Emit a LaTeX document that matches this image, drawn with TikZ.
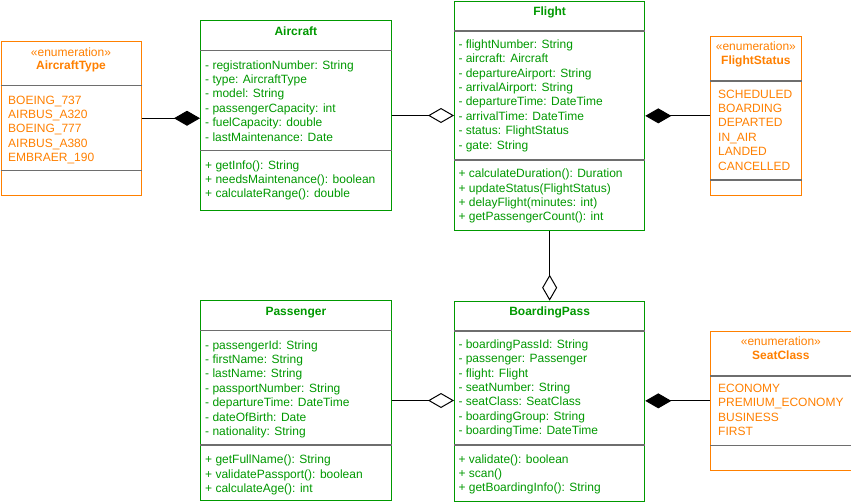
\documentclass[tikz,border=0pt]{standalone}
\usepackage{fontspec}
\setmainfont{Liberation Sans}
\usetikzlibrary{arrows.meta,positioning}

\definecolor{clsgreen}{RGB}{0,153,0}
\definecolor{enumorange}{RGB}{255,128,0}
\definecolor{sepgray}{RGB}{110,110,110}

\tikzset{
  box/.style={draw, fill=white, line width=1pt, anchor=north west, inner sep=0pt},
  classbox/.style={box, draw=clsgreen},
  enumbox/.style={box, draw=enumorange},
  sepline/.style={draw=sepgray, line width=1.3pt},
  txt/.style={inner sep=0pt, text height=10.6pt, text depth=2.6pt, font=\fontsize{12}{14.4}\selectfont},
  row/.style={txt, anchor=west},
  title/.style={txt, font=\fontsize{12}{14.4}\selectfont\bfseries},
  compose/.style={-{Diamond[length=26pt,width=15pt]}, line width=1pt},
  aggregate/.style={-{Diamond[length=26pt,width=15pt,fill=white]}, line width=1pt},
}

% one text line per entry, 14.4 apart
\newcommand{\umlrows}[5]{%
  \foreach \txt [count=\k] in {#5}
    \node[row, text=#4] (#1\k) at ({#2}, {#3+14.4*(\k-1)}) {\txt};
}

\begin{document}
\begin{tikzpicture}[x=1pt, y=-1pt] % y grows downwards
    \useasboundingbox (0,0) rectangle (851,501);

    % enumeration AircraftType
    \node[enumbox, minimum width=140pt, minimum height=154.5pt] (aircraftType) at (0.5,40.5) {};
    \draw[sepline] (aircraftType.west |- 0,85.7) -- (aircraftType.east |- 0,85.7);
    \draw[sepline] (aircraftType.west |- 0,170.7) -- (aircraftType.east |- 0,170.7);
    \node[txt, text=enumorange] (aircraftTypeStereo) at (aircraftType.north |- 0,52.7) {«enumeration»};
    \node[title, text=enumorange] (aircraftTypeName) at (aircraftType.north |- 0,65) {AircraftType};
    \umlrows{aircraftTypeL}{8}{100}{enumorange}{BOEING\_737, AIRBUS\_A320, BOEING\_777, AIRBUS\_A380, EMBRAER\_190}

    % class Aircraft
    \node[classbox, minimum width=190.7pt, minimum height=190pt] (aircraft) at (200,20) {};
    \draw[sepline] (aircraft.west |- 0,50.3) -- (aircraft.east |- 0,50.3);
    \draw[sepline] (aircraft.west |- 0,150.7) -- (aircraft.east |- 0,150.7);
    \node[title, text=clsgreen] (aircraftName) at (aircraft.north |- 0,31.7) {Aircraft};
    \umlrows{aircraftA}{205}{65}{clsgreen}{- registrationNumber: String, - type: AircraftType, - model: String, - passengerCapacity: int, - fuelCapacity: double, - lastMaintenance: Date}
    \umlrows{aircraftM}{205}{165}{clsgreen}{+ getInfo(): String, + needsMaintenance(): boolean, + calculateRange(): double}

    % class Flight
    \node[classbox, minimum width=190.3pt, minimum height=229pt] (flight) at (454,1) {};
    \draw[sepline] (flight.west |- 0,31) -- (flight.east |- 0,31);
    \draw[sepline] (flight.west |- 0,160) -- (flight.east |- 0,160);
    \node[title, text=clsgreen] (flightName) at (flight.north |- 0,11.7) {Flight};
    \umlrows{flightA}{458.3}{44.3}{clsgreen}{- flightNumber: String, - aircraft: Aircraft, - departureAirport: String, - arrivalAirport: String, - departureTime: DateTime, - arrivalTime: DateTime, - status: FlightStatus, - gate: String}
    \umlrows{flightM}{458.3}{173.7}{clsgreen}{+ calculateDuration(): Duration, + updateStatus(FlightStatus), + delayFlight(minutes: int), + getPassengerCount(): int}

    % enumeration FlightStatus
    \node[enumbox, minimum width=90.7pt, minimum height=159.3pt] (flightStatus) at (710,35.7) {};
    \draw[sepline] (flightStatus.west |- 0,81) -- (flightStatus.east |- 0,81);
    \draw[sepline] (flightStatus.west |- 0,180) -- (flightStatus.east |- 0,180);
    \node[txt, text=enumorange] (flightStatusStereo) at (flightStatus.north |- 0,46) {«enumeration»};
    \node[title, text=enumorange] (flightStatusName) at (flightStatus.north |- 0,60.7) {FlightStatus};
    \umlrows{flightStatusL}{718}{94}{enumorange}{SCHEDULED, BOARDING, DEPARTED, IN\_AIR, LANDED, CANCELLED}

    % class Passenger
    \node[classbox, minimum width=190.7pt, minimum height=200pt] (passenger) at (200,300) {};
    \draw[sepline] (passenger.west |- 0,330.3) -- (passenger.east |- 0,330.3);
    \draw[sepline] (passenger.west |- 0,445) -- (passenger.east |- 0,445);
    \node[title, text=clsgreen] (passengerName) at (passenger.north |- 0,311.7) {Passenger};
    \umlrows{passengerA}{205}{345}{clsgreen}{- passengerId: String, - firstName: String, - lastName: String, - passportNumber: String, - departureTime: DateTime, - dateOfBirth: Date, - nationality: String}
    \umlrows{passengerM}{205}{459.7}{clsgreen}{+ getFullName(): String, + validatePassport(): boolean, + calculateAge(): int}

    % class BoardingPass
    \node[classbox, minimum width=190.3pt, minimum height=200pt] (boardingPass) at (454,300.7) {};
    \draw[sepline] (boardingPass.west |- 0,331) -- (boardingPass.east |- 0,331);
    \draw[sepline] (boardingPass.west |- 0,445) -- (boardingPass.east |- 0,445);
    \node[title, text=clsgreen] (boardingPassName) at (boardingPass.north |- 0,311.7) {BoardingPass};
    \umlrows{boardingPassA}{458.3}{344.3}{clsgreen}{- boardingPassId: String, - passenger: Passenger, - flight: Flight, - seatNumber: String, - seatClass: SeatClass, - boardingGroup: String, - boardingTime: DateTime}
    \umlrows{boardingPassM}{458.3}{459}{clsgreen}{+ validate(): boolean, + scan(), + getBoardingInfo(): String}

    % enumeration SeatClass
    \node[enumbox, minimum width=140.7pt, minimum height=139.3pt] (seatClass) at (710,330.7) {};
    \draw[sepline] (seatClass.west |- 0,376) -- (seatClass.east |- 0,376);
    \draw[sepline] (seatClass.west |- 0,445.7) -- (seatClass.east |- 0,445.7);
    \node[txt, text=enumorange] (seatClassStereo) at (seatClass.north |- 0,341.7) {«enumeration»};
    \node[title, text=enumorange] (seatClassName) at (seatClass.north |- 0,355.7) {SeatClass};
    \umlrows{seatClassL}{718}{388.3}{enumorange}{ECONOMY, PREMIUM\_ECONOMY, BUSINESS, FIRST}

    % associations
    \draw[compose] (aircraftType.east) -- (aircraftType.east -| aircraft.west);
    \draw[aggregate] (aircraft.east) -- (aircraft.east -| flight.west);
    \draw[compose] (flightStatus.west) -- (flightStatus.west -| flight.east);
    \draw[aggregate] (flight.south) -- (boardingPass.north);
    \draw[aggregate] (passenger.east) -- (passenger.east -| boardingPass.west);
    \draw[compose] (seatClass.west) -- (seatClass.west -| boardingPass.east);

\end{tikzpicture}
\end{document}
